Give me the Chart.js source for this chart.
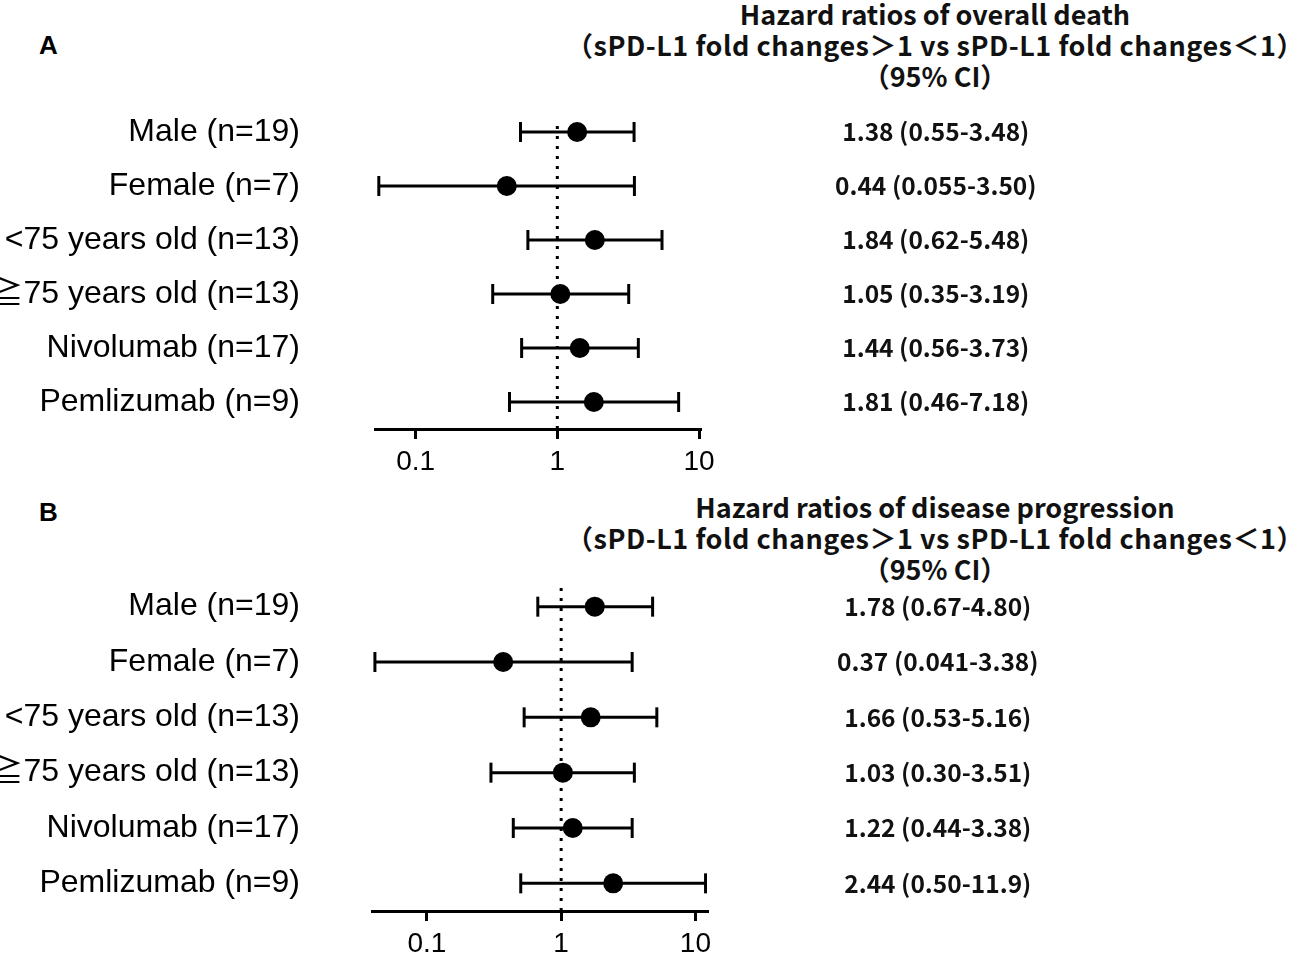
<!DOCTYPE html>
<html>
<head>
<meta charset="utf-8">
<script src="https://cdn.jsdelivr.net/npm/chart.js@4.4.1/dist/chart.umd.min.js"></script>
<style>
  body { margin: 0; background: #fff; width: 1299px; height: 958px; position: relative; overflow: hidden; }
  canvas { position: absolute; left: 0; }
  .head { position: absolute; left: 535px; width: 800px; text-align: center; white-space: nowrap;
          font-family: "Noto Sans CJK JP", sans-serif; font-weight: bold; font-size: 27px; line-height: 31px; color: #111; }
  .head span { letter-spacing: 0.5px; }
  .tag { position: absolute; left: 39px; font-family: Arial, "Liberation Sans", sans-serif; font-weight: bold; font-size: 26px; line-height: 30px; }
</style>
</head>
<body>
<div class="tag" style="top:30px">A</div>
<div class="head" style="top:-2px">Hazard ratios of overall death<br><span>（sPD-L1 fold changes＞1 vs sPD-L1 fold changes＜1）</span><br>（95% CI）</div>
<canvas id="panelA" width="1299" height="479" style="top:0px"></canvas>

<div class="tag" style="top:497px">B</div>
<div class="head" style="top:491px">Hazard ratios of disease progression<br><span>（sPD-L1 fold changes＞1 vs sPD-L1 fold changes＜1）</span><br>（95% CI）</div>
<canvas id="panelB" width="1299" height="479" style="top:479px"></canvas>

<script>
// subgroups, top to bottom
const groups = ['Male (n=19)', 'Female (n=7)', '<75 years old (n=13)', '≧75 years old (n=13)', 'Nivolumab (n=17)', 'Pemlizumab (n=9)'];

// A: overall death
const deathHR = [1.38, 0.44, 1.84, 1.05, 1.44, 1.81];
const deathLo = [0.55, 0.055, 0.62, 0.35, 0.56, 0.46];
const deathHi = [3.48, 3.50, 5.48, 3.19, 3.73, 7.18];

// B: disease progression
const progHR = [1.78, 0.37, 1.66, 1.03, 1.22, 2.44];
const progLo = [0.67, 0.041, 0.53, 0.30, 0.44, 0.50];
const progHi = [4.80, 3.38, 5.16, 3.51, 3.38, 11.9];

const xTicks = [0.1, 1, 10];

const labelFont = 'Arial, "Liberation Sans", "Noto Sans CJK JP", sans-serif';

function fmt(v) {
  return v >= 10 ? v.toFixed(1) : v < 0.1 ? v.toFixed(3) : v.toFixed(2);
}
function ciText(hr, lo, hi) {
  return hr.map((h, i) => h.toFixed(2) + ' (' + fmt(lo[i]) + '-' + fmt(hi[i]) + ')');
}

function panel(id, hr, lo, hi, g) {
  const datasets = [];
  // estimates (first = drawn on top)
  datasets.push({
    data: groups.map((c, i) => ({ x: hr[i], y: c })),
    pointRadius: 10, pointHoverRadius: 10,
    pointBackgroundColor: '#000', pointBorderWidth: 0, showLine: false
  });
  // confidence intervals with caps
  groups.forEach((c, i) => {
    datasets.push({
      data: [{ x: lo[i], y: c }, { x: hi[i], y: c }],
      showLine: true, borderColor: '#000', borderWidth: 3,
      pointStyle: 'line', pointRotation: 90, pointRadius: 10, pointHoverRadius: 10,
      pointBorderWidth: 3, pointBorderColor: '#000'
    });
  });
  // reference line at HR = 1
  datasets.push({
    data: [{ x: 1, y: 0 }, { x: 1, y: g.refTop }], yAxisID: 'yRef',
    showLine: true, borderColor: '#000', borderWidth: 3, borderDash: [3, 7], pointRadius: 0
  });

  // keep tick padding from eating into the plot height
  const noPad = s => { s.paddingTop = 0; s.paddingBottom = 0; };

  new Chart(document.getElementById(id), {
    type: 'scatter',
    data: { datasets: datasets },
    options: {
      responsive: false,
      animation: false,
      events: [],
      layout: { padding: { top: g.top, left: 0, right: 0, bottom: 0 } },
      plugins: { legend: { display: false }, tooltip: { enabled: false } },
      scales: {
        x: {
          type: 'logarithmic', min: g.xMin, max: g.xMax,
          afterBuildTicks: s => { s.ticks = xTicks.map(v => ({ value: v })); },
          afterFit: s => { s.height = g.axisH; },
          grid: { drawOnChartArea: false, drawTicks: true, tickLength: 10, lineWidth: 3, color: '#000' },
          border: { display: true, width: 3, color: '#000' },
          ticks: { color: '#000', padding: 6, maxRotation: 0, autoSkip: false,
                   font: { family: labelFont, size: 28 }, callback: v => String(v) }
        },
        y: {
          type: 'category', labels: groups, offset: true, position: 'left',
          afterFit: s => { s.width = g.plotLeft; noPad(s); },
          grid: { display: false, drawTicks: false }, border: { display: false },
          ticks: { color: '#000', padding: g.labelPad, autoSkip: false,
                   font: { family: labelFont, size: 32 } }
        },
        y2: {
          type: 'category', labels: ciText(hr, lo, hi), offset: true, position: 'right',
          afterFit: s => { s.width = 1299 - g.plotRight; noPad(s); },
          grid: { display: false, drawTicks: false }, border: { display: false },
          ticks: { color: '#111', crossAlign: 'center', padding: g.textPad, autoSkip: false,
                   font: { family: '"Noto Sans CJK JP", sans-serif', weight: 'bold', size: 24.5 } }
        },
        yRef: { type: 'linear', display: false, min: 0, max: 1 }
      }
    }
  });
}

panel('panelA', deathHR, deathLo, deathHi,
  { xMin: 0.0517, xMax: 10.16, top: 105, axisH: 50, plotLeft: 375, plotRight: 700, labelPad: 75, textPad: 135, refTop: 0.945 });
panel('panelB', progHR, progLo, progHi,
  { xMin: 0.039, xMax: 12.2, top: 100, axisH: 47, plotLeft: 372, plotRight: 707, labelPad: 72, textPad: 130, refTop: 0.973 });
</script>
</body>
</html>
